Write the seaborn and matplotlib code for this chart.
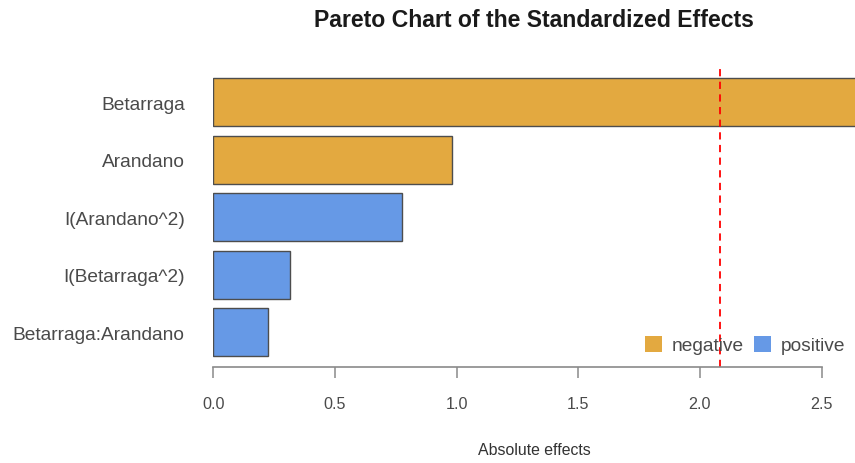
import pandas as pd
import matplotlib
matplotlib.use('Agg')
import matplotlib.pyplot as plt
import seaborn as sns
from matplotlib.patches import Patch

# Effects
terms = ['Betarraga', 'Arandano', 'I(Arandano^2)', 'I(Betarraga^2)', 'Betarraga:Arandano']
effects = [2.72, 0.98, 0.774, 0.314, 0.224]
signs = ['negative', 'negative', 'positive', 'positive', 'positive']
critical_value = 2.083
x_ticks = [0.0, 0.5, 1.0, 1.5, 2.0, 2.5]

colors = {'negative': '#E3A940', 'positive': '#6699E6'}
text_gray = '#4a4a4a'

sns.set_style('white')
plt.rcParams['font.family'] = ['Liberation Sans', 'DejaVu Sans']

df = pd.DataFrame({'term': terms, 'effect': effects, 'sign': signs})

fig = plt.figure(figsize=(8.55, 4.64), dpi=100)
ax = fig.add_axes([213.3 / 855, 96 / 464, 1 - 213.3 / 855, 299.5 / 464])

sns.barplot(data=df, x='effect', y='term', hue='sign', palette=colors,
            dodge=False, width=0.835, saturation=1, edgecolor='#4d4d4d', linewidth=1,
            legend=False, order=terms, ax=ax)

# critical value line
ax.axvline(critical_value, color='red', linestyle=(0, (4, 3)), linewidth=1.3)

ax.set_xlim(0, 2.637)
ax.set_ylim(len(terms) - 1 + 0.605, -0.605)

for side in ['top', 'right', 'left']:
    ax.spines[side].set_visible(False)
ax.spines['bottom'].set_bounds(0, 2.5)
ax.spines['bottom'].set_color('#8a8a8a')
ax.spines['bottom'].set_linewidth(1.2)

ax.set_xticks(x_ticks)
ax.set_xticklabels([f'{t:.1f}' for t in x_ticks])
ax.tick_params(axis='x', bottom=True, length=8, width=1.1, color='#8a8a8a',
               pad=13, labelsize=11.6, labelcolor=text_gray)
ax.tick_params(axis='y', left=False, pad=17, labelsize=13.8, labelcolor=text_gray)

ax.set_xlabel('Absolute effects', fontsize=11.4, color='#333333', labelpad=22)
ax.set_ylabel('')

fig.suptitle('Pareto Chart of the Standardized Effects', x=534 / 855, y=1 - 9 / 464,
             fontsize=16.6, fontweight='bold', color='#1a1a1a', va='top')

handles = [Patch(facecolor=colors['negative'], edgecolor='none', label='negative'),
           Patch(facecolor=colors['positive'], edgecolor='none', label='positive')]
fig.legend(handles=handles, loc='center left', bbox_to_anchor=(645 / 855, 1 - 346 / 464),
           ncol=2, frameon=False, fontsize=13.8, handlelength=0.9, handleheight=0.9,
           handletextpad=0.5, columnspacing=0.5, borderpad=0, borderaxespad=0,
           labelcolor=text_gray)

fig.savefig('out.png', dpi=100)
plt.close(fig)
